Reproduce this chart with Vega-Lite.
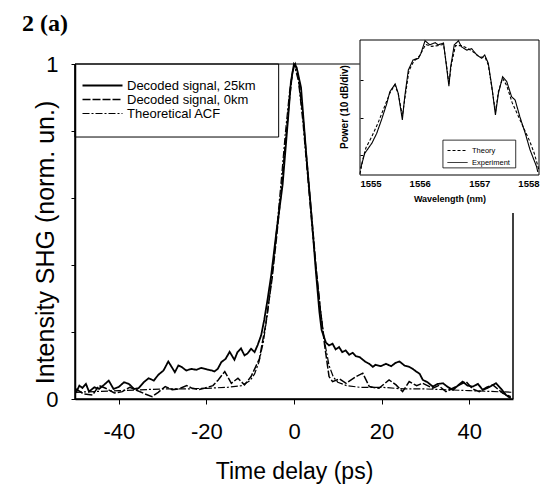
{
  "$schema": "https://vega.github.io/schema/vega-lite/v6.json",
  "width": 438,
  "height": 335,
  "autosize": "none",
  "padding": {"left": 75, "top": 64, "right": 37, "bottom": 86},
  "background": "white",
  "title": {"text": "2 (a)", "anchor": "start", "frame": "group", "font": "Liberation Serif", "fontSize": 24, "fontWeight": "bold", "color": "black", "dx": -53, "offset": -16, "baseline": "alphabetic"},
  "config": {
    "view": {"stroke": null},
    "font": "Liberation Sans",
    "axis": {"grid": false, "domainColor": "black", "tickColor": "black", "labelColor": "black", "titleColor": "black", "titleFontWeight": "normal", "labelFont": "Liberation Sans", "titleFont": "Liberation Sans"},
    "legend": {"labelColor": "black", "labelFont": "Liberation Sans"}
  },
  "datasets": {
    "main": [
      {"t": -49.8, "v": 0.018, "s": "Decoded signal, 25km"}, {"t": -49.0, "v": 0.04, "s": "Decoded signal, 25km"}, {"t": -48.3, "v": 0.033, "s": "Decoded signal, 25km"}, {"t": -47.5, "v": 0.045, "s": "Decoded signal, 25km"}, {"t": -46.8, "v": 0.022, "s": "Decoded signal, 25km"}, {"t": -45.6, "v": 0.035, "s": "Decoded signal, 25km"}, {"t": -44.5, "v": 0.03, "s": "Decoded signal, 25km"}, {"t": -43.4, "v": 0.042, "s": "Decoded signal, 25km"}, {"t": -42.3, "v": 0.055, "s": "Decoded signal, 25km"}, {"t": -41.2, "v": 0.03, "s": "Decoded signal, 25km"}, {"t": -40.0, "v": 0.036, "s": "Decoded signal, 25km"}, {"t": -38.8, "v": 0.05, "s": "Decoded signal, 25km"}, {"t": -37.7, "v": 0.045, "s": "Decoded signal, 25km"}, {"t": -36.5, "v": 0.03, "s": "Decoded signal, 25km"}, {"t": -35.5, "v": 0.032, "s": "Decoded signal, 25km"}, {"t": -34.3, "v": 0.05, "s": "Decoded signal, 25km"}, {"t": -33.2, "v": 0.062, "s": "Decoded signal, 25km"}, {"t": -32.0, "v": 0.055, "s": "Decoded signal, 25km"}, {"t": -31.0, "v": 0.072, "s": "Decoded signal, 25km"}, {"t": -29.8, "v": 0.085, "s": "Decoded signal, 25km"}, {"t": -28.7, "v": 0.112, "s": "Decoded signal, 25km"}, {"t": -27.9, "v": 0.095, "s": "Decoded signal, 25km"}, {"t": -27.2, "v": 0.08, "s": "Decoded signal, 25km"}, {"t": -26.4, "v": 0.1, "s": "Decoded signal, 25km"}, {"t": -25.7, "v": 0.096, "s": "Decoded signal, 25km"}, {"t": -24.6, "v": 0.085, "s": "Decoded signal, 25km"}, {"t": -23.4, "v": 0.09, "s": "Decoded signal, 25km"}, {"t": -22.3, "v": 0.087, "s": "Decoded signal, 25km"}, {"t": -21.2, "v": 0.093, "s": "Decoded signal, 25km"}, {"t": -19.8, "v": 0.088, "s": "Decoded signal, 25km"}, {"t": -18.7, "v": 0.085, "s": "Decoded signal, 25km"}, {"t": -18.2, "v": 0.082, "s": "Decoded signal, 25km"}, {"t": -17.4, "v": 0.09, "s": "Decoded signal, 25km"}, {"t": -16.6, "v": 0.11, "s": "Decoded signal, 25km"}, {"t": -15.6, "v": 0.12, "s": "Decoded signal, 25km"}, {"t": -14.7, "v": 0.141, "s": "Decoded signal, 25km"}, {"t": -13.6, "v": 0.117, "s": "Decoded signal, 25km"}, {"t": -12.9, "v": 0.14, "s": "Decoded signal, 25km"}, {"t": -12.1, "v": 0.151, "s": "Decoded signal, 25km"}, {"t": -11.3, "v": 0.13, "s": "Decoded signal, 25km"}, {"t": -10.6, "v": 0.136, "s": "Decoded signal, 25km"}, {"t": -9.8, "v": 0.15, "s": "Decoded signal, 25km"}, {"t": -9.0, "v": 0.14, "s": "Decoded signal, 25km"}, {"t": -8.3, "v": 0.161, "s": "Decoded signal, 25km"}, {"t": -7.5, "v": 0.19, "s": "Decoded signal, 25km"}, {"t": -6.8, "v": 0.236, "s": "Decoded signal, 25km"}, {"t": -6.0, "v": 0.3, "s": "Decoded signal, 25km"}, {"t": -5.2, "v": 0.37, "s": "Decoded signal, 25km"}, {"t": -4.0, "v": 0.5, "s": "Decoded signal, 25km"}, {"t": -2.6, "v": 0.64, "s": "Decoded signal, 25km"}, {"t": -1.4, "v": 0.83, "s": "Decoded signal, 25km"}, {"t": -0.7, "v": 0.947, "s": "Decoded signal, 25km"}, {"t": 0.0, "v": 1.0, "s": "Decoded signal, 25km"}, {"t": 0.6, "v": 0.99, "s": "Decoded signal, 25km"}, {"t": 1.6, "v": 0.93, "s": "Decoded signal, 25km"}, {"t": 2.8, "v": 0.73, "s": "Decoded signal, 25km"}, {"t": 4.1, "v": 0.53, "s": "Decoded signal, 25km"}, {"t": 5.0, "v": 0.38, "s": "Decoded signal, 25km"}, {"t": 5.8, "v": 0.26, "s": "Decoded signal, 25km"}, {"t": 6.3, "v": 0.206, "s": "Decoded signal, 25km"}, {"t": 7.3, "v": 0.168, "s": "Decoded signal, 25km"}, {"t": 8.0, "v": 0.16, "s": "Decoded signal, 25km"}, {"t": 8.8, "v": 0.165, "s": "Decoded signal, 25km"}, {"t": 9.5, "v": 0.148, "s": "Decoded signal, 25km"}, {"t": 10.3, "v": 0.155, "s": "Decoded signal, 25km"}, {"t": 11.0, "v": 0.14, "s": "Decoded signal, 25km"}, {"t": 11.8, "v": 0.145, "s": "Decoded signal, 25km"}, {"t": 12.6, "v": 0.132, "s": "Decoded signal, 25km"}, {"t": 13.4, "v": 0.138, "s": "Decoded signal, 25km"}, {"t": 14.1, "v": 0.128, "s": "Decoded signal, 25km"}, {"t": 15.0, "v": 0.125, "s": "Decoded signal, 25km"}, {"t": 16.3, "v": 0.111, "s": "Decoded signal, 25km"}, {"t": 17.2, "v": 0.105, "s": "Decoded signal, 25km"}, {"t": 18.0, "v": 0.096, "s": "Decoded signal, 25km"}, {"t": 18.6, "v": 0.102, "s": "Decoded signal, 25km"}, {"t": 19.8, "v": 0.098, "s": "Decoded signal, 25km"}, {"t": 21.0, "v": 0.105, "s": "Decoded signal, 25km"}, {"t": 22.2, "v": 0.098, "s": "Decoded signal, 25km"}, {"t": 23.2, "v": 0.108, "s": "Decoded signal, 25km"}, {"t": 24.1, "v": 0.112, "s": "Decoded signal, 25km"}, {"t": 25.2, "v": 0.1, "s": "Decoded signal, 25km"}, {"t": 26.3, "v": 0.096, "s": "Decoded signal, 25km"}, {"t": 27.1, "v": 0.09, "s": "Decoded signal, 25km"}, {"t": 27.9, "v": 0.082, "s": "Decoded signal, 25km"}, {"t": 28.7, "v": 0.075, "s": "Decoded signal, 25km"}, {"t": 29.4, "v": 0.057, "s": "Decoded signal, 25km"}, {"t": 30.5, "v": 0.05, "s": "Decoded signal, 25km"}, {"t": 31.7, "v": 0.037, "s": "Decoded signal, 25km"}, {"t": 32.8, "v": 0.045, "s": "Decoded signal, 25km"}, {"t": 34.0, "v": 0.047, "s": "Decoded signal, 25km"}, {"t": 35.2, "v": 0.035, "s": "Decoded signal, 25km"}, {"t": 36.3, "v": 0.027, "s": "Decoded signal, 25km"}, {"t": 37.4, "v": 0.04, "s": "Decoded signal, 25km"}, {"t": 38.5, "v": 0.052, "s": "Decoded signal, 25km"}, {"t": 39.6, "v": 0.04, "s": "Decoded signal, 25km"}, {"t": 40.8, "v": 0.037, "s": "Decoded signal, 25km"}, {"t": 42.0, "v": 0.045, "s": "Decoded signal, 25km"}, {"t": 43.1, "v": 0.027, "s": "Decoded signal, 25km"}, {"t": 44.5, "v": 0.035, "s": "Decoded signal, 25km"}, {"t": 46.1, "v": 0.047, "s": "Decoded signal, 25km"}, {"t": 47.3, "v": 0.03, "s": "Decoded signal, 25km"}, {"t": 48.4, "v": 0.012, "s": "Decoded signal, 25km"}, {"t": 49.5, "v": 0.002, "s": "Decoded signal, 25km"},
      {"t": -49.8, "v": 0.03, "s": "Decoded signal, 0km"}, {"t": -48.0, "v": 0.015, "s": "Decoded signal, 0km"}, {"t": -46.0, "v": 0.012, "s": "Decoded signal, 0km"}, {"t": -44.5, "v": 0.04, "s": "Decoded signal, 0km"}, {"t": -43.0, "v": 0.032, "s": "Decoded signal, 0km"}, {"t": -41.0, "v": 0.018, "s": "Decoded signal, 0km"}, {"t": -39.2, "v": 0.022, "s": "Decoded signal, 0km"}, {"t": -37.5, "v": 0.035, "s": "Decoded signal, 0km"}, {"t": -36.1, "v": 0.027, "s": "Decoded signal, 0km"}, {"t": -34.0, "v": 0.015, "s": "Decoded signal, 0km"}, {"t": -32.4, "v": 0.007, "s": "Decoded signal, 0km"}, {"t": -31.0, "v": 0.02, "s": "Decoded signal, 0km"}, {"t": -29.4, "v": 0.037, "s": "Decoded signal, 0km"}, {"t": -27.8, "v": 0.028, "s": "Decoded signal, 0km"}, {"t": -26.3, "v": 0.03, "s": "Decoded signal, 0km"}, {"t": -24.5, "v": 0.04, "s": "Decoded signal, 0km"}, {"t": -23.4, "v": 0.033, "s": "Decoded signal, 0km"}, {"t": -21.8, "v": 0.028, "s": "Decoded signal, 0km"}, {"t": -20.3, "v": 0.033, "s": "Decoded signal, 0km"}, {"t": -18.5, "v": 0.04, "s": "Decoded signal, 0km"}, {"t": -17.3, "v": 0.057, "s": "Decoded signal, 0km"}, {"t": -15.8, "v": 0.082, "s": "Decoded signal, 0km"}, {"t": -14.3, "v": 0.047, "s": "Decoded signal, 0km"}, {"t": -12.8, "v": 0.062, "s": "Decoded signal, 0km"}, {"t": -11.3, "v": 0.042, "s": "Decoded signal, 0km"}, {"t": -9.8, "v": 0.067, "s": "Decoded signal, 0km"}, {"t": -7.9, "v": 0.12, "s": "Decoded signal, 0km"}, {"t": -6.5, "v": 0.22, "s": "Decoded signal, 0km"}, {"t": -5.0, "v": 0.36, "s": "Decoded signal, 0km"}, {"t": -4.0, "v": 0.48, "s": "Decoded signal, 0km"}, {"t": -3.0, "v": 0.61, "s": "Decoded signal, 0km"}, {"t": -2.0, "v": 0.76, "s": "Decoded signal, 0km"}, {"t": -1.0, "v": 0.9, "s": "Decoded signal, 0km"}, {"t": -0.3, "v": 0.98, "s": "Decoded signal, 0km"}, {"t": 0.3, "v": 1.0, "s": "Decoded signal, 0km"}, {"t": 1.0, "v": 0.96, "s": "Decoded signal, 0km"}, {"t": 2.0, "v": 0.85, "s": "Decoded signal, 0km"}, {"t": 3.0, "v": 0.7, "s": "Decoded signal, 0km"}, {"t": 4.0, "v": 0.55, "s": "Decoded signal, 0km"}, {"t": 5.0, "v": 0.4, "s": "Decoded signal, 0km"}, {"t": 6.0, "v": 0.27, "s": "Decoded signal, 0km"}, {"t": 7.0, "v": 0.16, "s": "Decoded signal, 0km"}, {"t": 8.0, "v": 0.067, "s": "Decoded signal, 0km"}, {"t": 8.8, "v": 0.052, "s": "Decoded signal, 0km"}, {"t": 10.4, "v": 0.06, "s": "Decoded signal, 0km"}, {"t": 11.9, "v": 0.047, "s": "Decoded signal, 0km"}, {"t": 14.2, "v": 0.067, "s": "Decoded signal, 0km"}, {"t": 15.7, "v": 0.077, "s": "Decoded signal, 0km"}, {"t": 17.2, "v": 0.037, "s": "Decoded signal, 0km"}, {"t": 19.4, "v": 0.032, "s": "Decoded signal, 0km"}, {"t": 21.7, "v": 0.057, "s": "Decoded signal, 0km"}, {"t": 23.3, "v": 0.042, "s": "Decoded signal, 0km"}, {"t": 24.8, "v": 0.022, "s": "Decoded signal, 0km"}, {"t": 26.3, "v": 0.052, "s": "Decoded signal, 0km"}, {"t": 28.0, "v": 0.04, "s": "Decoded signal, 0km"}, {"t": 29.4, "v": 0.047, "s": "Decoded signal, 0km"}, {"t": 31.7, "v": 0.032, "s": "Decoded signal, 0km"}, {"t": 33.0, "v": 0.04, "s": "Decoded signal, 0km"}, {"t": 34.7, "v": 0.022, "s": "Decoded signal, 0km"}, {"t": 37.0, "v": 0.037, "s": "Decoded signal, 0km"}, {"t": 39.3, "v": 0.052, "s": "Decoded signal, 0km"}, {"t": 40.8, "v": 0.03, "s": "Decoded signal, 0km"}, {"t": 42.3, "v": 0.022, "s": "Decoded signal, 0km"}, {"t": 44.0, "v": 0.035, "s": "Decoded signal, 0km"}, {"t": 45.4, "v": 0.042, "s": "Decoded signal, 0km"}, {"t": 47.7, "v": 0.017, "s": "Decoded signal, 0km"}, {"t": 49.5, "v": 0.007, "s": "Decoded signal, 0km"},
      {"t": -50, "v": 0.02, "s": "Theoretical ACF"}, {"t": -40, "v": 0.025, "s": "Theoretical ACF"}, {"t": -30, "v": 0.03, "s": "Theoretical ACF"}, {"t": -25, "v": 0.03, "s": "Theoretical ACF"}, {"t": -20, "v": 0.032, "s": "Theoretical ACF"}, {"t": -15, "v": 0.035, "s": "Theoretical ACF"}, {"t": -12, "v": 0.04, "s": "Theoretical ACF"}, {"t": -10, "v": 0.055, "s": "Theoretical ACF"}, {"t": -9, "v": 0.075, "s": "Theoretical ACF"}, {"t": -8, "v": 0.11, "s": "Theoretical ACF"}, {"t": -7, "v": 0.17, "s": "Theoretical ACF"}, {"t": -6, "v": 0.26, "s": "Theoretical ACF"}, {"t": -5, "v": 0.37, "s": "Theoretical ACF"}, {"t": -4, "v": 0.5, "s": "Theoretical ACF"}, {"t": -3, "v": 0.64, "s": "Theoretical ACF"}, {"t": -2, "v": 0.79, "s": "Theoretical ACF"}, {"t": -1, "v": 0.92, "s": "Theoretical ACF"}, {"t": 0, "v": 1.0, "s": "Theoretical ACF"}, {"t": 1, "v": 0.95, "s": "Theoretical ACF"}, {"t": 2, "v": 0.83, "s": "Theoretical ACF"}, {"t": 3, "v": 0.68, "s": "Theoretical ACF"}, {"t": 4, "v": 0.53, "s": "Theoretical ACF"}, {"t": 5, "v": 0.39, "s": "Theoretical ACF"}, {"t": 6, "v": 0.27, "s": "Theoretical ACF"}, {"t": 7, "v": 0.17, "s": "Theoretical ACF"}, {"t": 8, "v": 0.1, "s": "Theoretical ACF"}, {"t": 9, "v": 0.065, "s": "Theoretical ACF"}, {"t": 10, "v": 0.05, "s": "Theoretical ACF"}, {"t": 12, "v": 0.04, "s": "Theoretical ACF"}, {"t": 15, "v": 0.035, "s": "Theoretical ACF"}, {"t": 20, "v": 0.035, "s": "Theoretical ACF"}, {"t": 25, "v": 0.03, "s": "Theoretical ACF"}, {"t": 30, "v": 0.03, "s": "Theoretical ACF"}, {"t": 40, "v": 0.025, "s": "Theoretical ACF"}, {"t": 50, "v": 0.02, "s": "Theoretical ACF"}
    ],
    "inset": [
      {"w": 1555.01, "p": -33.5, "s": "Experiment"}, {"w": 1555.08, "p": -29.5, "s": "Experiment"}, {"w": 1555.2, "p": -26.8, "s": "Experiment"}, {"w": 1555.28, "p": -24.2, "s": "Experiment"}, {"w": 1555.36, "p": -20.6, "s": "Experiment"}, {"w": 1555.45, "p": -16.2, "s": "Experiment"}, {"w": 1555.5, "p": -13.1, "s": "Experiment"}, {"w": 1555.59, "p": -11.0, "s": "Experiment"}, {"w": 1555.64, "p": -13.5, "s": "Experiment"}, {"w": 1555.71, "p": -20.6, "s": "Experiment"}, {"w": 1555.75, "p": -14.4, "s": "Experiment"}, {"w": 1555.81, "p": -7.3, "s": "Experiment"}, {"w": 1555.89, "p": -4.6, "s": "Experiment"}, {"w": 1555.98, "p": -4.2, "s": "Experiment"}, {"w": 1556.02, "p": -2.9, "s": "Experiment"}, {"w": 1556.09, "p": 0.5, "s": "Experiment"}, {"w": 1556.17, "p": -0.6, "s": "Experiment"}, {"w": 1556.26, "p": 0.0, "s": "Experiment"}, {"w": 1556.31, "p": -0.6, "s": "Experiment"}, {"w": 1556.4, "p": -0.1, "s": "Experiment"}, {"w": 1556.45, "p": -6.4, "s": "Experiment"}, {"w": 1556.49, "p": -11.6, "s": "Experiment"}, {"w": 1556.52, "p": -6.4, "s": "Experiment"}, {"w": 1556.58, "p": -0.6, "s": "Experiment"}, {"w": 1556.65, "p": 0.5, "s": "Experiment"}, {"w": 1556.7, "p": -1.1, "s": "Experiment"}, {"w": 1556.79, "p": -2.0, "s": "Experiment"}, {"w": 1556.87, "p": -1.6, "s": "Experiment"}, {"w": 1556.96, "p": -3.3, "s": "Experiment"}, {"w": 1557.04, "p": -4.2, "s": "Experiment"}, {"w": 1557.09, "p": -3.3, "s": "Experiment"}, {"w": 1557.15, "p": -5.5, "s": "Experiment"}, {"w": 1557.21, "p": -11.8, "s": "Experiment"}, {"w": 1557.27, "p": -19.3, "s": "Experiment"}, {"w": 1557.32, "p": -13.5, "s": "Experiment"}, {"w": 1557.39, "p": -9.1, "s": "Experiment"}, {"w": 1557.46, "p": -10.4, "s": "Experiment"}, {"w": 1557.54, "p": -14.4, "s": "Experiment"}, {"w": 1557.6, "p": -15.3, "s": "Experiment"}, {"w": 1557.68, "p": -19.8, "s": "Experiment"}, {"w": 1557.77, "p": -24.2, "s": "Experiment"}, {"w": 1557.85, "p": -28.6, "s": "Experiment"}, {"w": 1557.96, "p": -33.1, "s": "Experiment"}, {"w": 1557.98, "p": -34.5, "s": "Experiment"},
      {"w": 1555.0, "p": -35.0, "s": "Theory"}, {"w": 1555.05, "p": -31.0, "s": "Theory"}, {"w": 1555.1, "p": -28.0, "s": "Theory"}, {"w": 1555.2, "p": -25.0, "s": "Theory"}, {"w": 1555.3, "p": -21.5, "s": "Theory"}, {"w": 1555.4, "p": -17.5, "s": "Theory"}, {"w": 1555.5, "p": -13.5, "s": "Theory"}, {"w": 1555.58, "p": -11.3, "s": "Theory"}, {"w": 1555.64, "p": -13.5, "s": "Theory"}, {"w": 1555.71, "p": -19.5, "s": "Theory"}, {"w": 1555.76, "p": -14.0, "s": "Theory"}, {"w": 1555.82, "p": -7.5, "s": "Theory"}, {"w": 1555.9, "p": -5.0, "s": "Theory"}, {"w": 1556.0, "p": -3.5, "s": "Theory"}, {"w": 1556.1, "p": -0.5, "s": "Theory"}, {"w": 1556.2, "p": -1.0, "s": "Theory"}, {"w": 1556.3, "p": -0.8, "s": "Theory"}, {"w": 1556.4, "p": -0.5, "s": "Theory"}, {"w": 1556.45, "p": -6.0, "s": "Theory"}, {"w": 1556.49, "p": -11.0, "s": "Theory"}, {"w": 1556.53, "p": -6.0, "s": "Theory"}, {"w": 1556.6, "p": -0.8, "s": "Theory"}, {"w": 1556.7, "p": -0.8, "s": "Theory"}, {"w": 1556.8, "p": -1.5, "s": "Theory"}, {"w": 1556.9, "p": -2.5, "s": "Theory"}, {"w": 1557.0, "p": -3.8, "s": "Theory"}, {"w": 1557.1, "p": -4.0, "s": "Theory"}, {"w": 1557.15, "p": -6.0, "s": "Theory"}, {"w": 1557.21, "p": -12.0, "s": "Theory"}, {"w": 1557.27, "p": -18.5, "s": "Theory"}, {"w": 1557.32, "p": -13.0, "s": "Theory"}, {"w": 1557.39, "p": -9.5, "s": "Theory"}, {"w": 1557.46, "p": -11.5, "s": "Theory"}, {"w": 1557.55, "p": -16.0, "s": "Theory"}, {"w": 1557.65, "p": -19.5, "s": "Theory"}, {"w": 1557.75, "p": -23.0, "s": "Theory"}, {"w": 1557.85, "p": -26.5, "s": "Theory"}, {"w": 1557.92, "p": -29.5, "s": "Theory"}, {"w": 1558.0, "p": -34.0, "s": "Theory"}
    ]
  },
  "layer": [
    {
      "layer": [
        {
          "data": {"name": "main"},
          "mark": {"type": "line", "color": "black", "interpolate": "linear"},
          "encoding": {
            "x": {"field": "t", "type": "quantitative", "scale": {"domain": [-50, 50], "nice": false, "zero": false},
              "axis": {"title": "Time delay (ps)", "values": [-40, -20, 0, 20, 40], "labelExpr": "replace(datum.label, '\u2212', '-')", "domain": true, "tickSize": 5, "labelFontSize": 22, "labelPadding": 34, "labelBaseline": "alphabetic", "titleFontSize": 23, "titleBaseline": "alphabetic", "titleY": 79, "domainWidth": 1.5}},
            "y": {"field": "v", "type": "quantitative", "scale": {"domain": [0, 1], "nice": false},
              "axis": {"title": "Intensity SHG (norm. un.)", "values": [0, 0.2, 0.4, 0.6, 0.8, 1], "labelExpr": "datum.value == 0 ? '0' : (datum.value == 1 ? '1' : '')", "domain": true, "tickSize": 4, "labelFontSize": 22, "labelPadding": 13, "titleFontSize": 25, "titleBaseline": "alphabetic", "titleX": -22, "titleY": 178, "titleAngle": 270, "titleAlign": "center", "domainWidth": 1.5}},
            "detail": {"field": "s"},
            "strokeDash": {"field": "s", "type": "nominal", "scale": {"domain": ["Decoded signal, 25km", "Decoded signal, 0km", "Theoretical ACF"], "range": [[1, 0], [8, 2], [7, 2, 2, 2]]},
              "legend": {"title": null, "orient": "none", "legendX": 0, "legendY": 15, "symbolType": "M-8,0H8", "symbolSize": 25, "symbolStrokeColor": "black", "symbolOffset": 21, "labelOffset": 18, "labelFontSize": 13, "labelColor": "black", "rowPadding": -2, "padding": 0, "labelLimit": 300}},
            "strokeWidth": {"field": "s", "type": "nominal", "scale": {"domain": ["Decoded signal, 25km", "Decoded signal, 0km", "Theoretical ACF"], "range": [1.8, 1.2, 1.2]}}
          }
        },
        {
          "data": {"values": [{}]},
          "mark": {"type": "rule", "color": "black", "strokeWidth": 1.2},
          "encoding": {"x": {"datum": -50}, "x2": {"datum": 15}, "y": {"datum": 1}}
        },
        {
          "data": {"values": [{}]},
          "mark": {"type": "rule", "color": "black", "strokeWidth": 1.5},
          "encoding": {"x": {"datum": -50}, "x2": {"datum": 50}, "y": {"datum": 0}}
        },
        {
          "data": {"values": [{}]},
          "mark": {"type": "rule", "color": "black", "strokeWidth": 1.5},
          "encoding": {"x": {"datum": -50}, "y": {"datum": 0}, "y2": {"datum": 1}}
        },
        {
          "data": {"values": [{}]},
          "mark": {"type": "rule", "color": "black", "strokeWidth": 1.5},
          "encoding": {"x": {"datum": 50}, "y": {"datum": 0}, "y2": {"datum": 0.555}}
        },
        {
          "data": {"values": [{}]},
          "mark": {"type": "rect", "fill": "white", "fillOpacity": 0, "stroke": "black", "strokeWidth": 1},
          "encoding": {"x": {"datum": -50}, "x2": {"datum": -3.5}, "y": {"datum": 1}, "y2": {"datum": 0.782}}
        }
      ]
    },
    {
      "layer": [
        {
          "data": {"values": [{}]},
          "mark": {"type": "rect", "fill": "white", "stroke": "black", "strokeWidth": 1},
          "encoding": {
            "x": {"datum": 1555, "scale": {"domain": [1555, 1558], "range": [285, 464], "nice": false, "zero": false},
              "axis": {"orient": "bottom", "offset": -224, "title": "Wavelength (nm)", "values": [1555, 1556, 1557, 1558], "format": "d", "ticks": false, "domain": false, "labelFontSize": 9.5, "labelFontWeight": "bold", "labelPadding": 11.5, "labelBaseline": "alphabetic", "titleFontSize": 9, "titleFontWeight": "bold", "titleBaseline": "alphabetic", "titleY": 26, "zindex": 1}},
            "x2": {"datum": 1558},
            "y": {"datum": 0.7, "scale": {"domain": [-35.3, 0.7], "range": [111, -24], "nice": false, "zero": false},
              "axis": {"orient": "left", "offset": -285, "title": "Power (10 dB/div)", "values": [-30, -20, -10], "labels": false, "tickSize": -3, "domain": false, "titleFontSize": 10, "titleFontWeight": "bold", "titleBaseline": "alphabetic", "titleX": -13, "titleY": 42.5, "titleAngle": 270, "titleAlign": "center", "zindex": 1}},
            "y2": {"datum": -35.3}
          }
        },
        {
          "data": {"name": "inset"},
          "mark": {"type": "line", "color": "black", "strokeWidth": 1.1},
          "encoding": {
            "x": {"field": "w", "type": "quantitative"},
            "y": {"field": "p", "type": "quantitative"},
            "detail": {"field": "s"},
            "strokeDash": {"field": "s", "type": "nominal", "scale": {"domain": ["Theory", "Experiment"], "range": [[3, 2], [1, 0]]},
              "legend": {"title": null, "orient": "none", "legendX": 367, "legendY": 81, "symbolType": "M-2,0H2", "symbolSize": 100, "symbolStrokeColor": "black", "symbolStrokeWidth": 1, "symbolOffset": 10, "labelOffset": 9, "labelFontSize": 7.5, "labelColor": "black", "rowPadding": 3, "padding": 0}}
          }
        },
        {
          "data": {"values": [{}]},
          "mark": {"type": "rect", "fillOpacity": 0, "stroke": "black", "strokeWidth": 0.8},
          "encoding": {"x": {"datum": 1556.39}, "x2": {"datum": 1557.61}, "y": {"datum": -26.0}, "y2": {"datum": -33.4}}
        }
      ]
    }
  ],
  "resolve": {"scale": {"x": "independent", "y": "independent", "strokeDash": "independent", "strokeWidth": "independent"}, "axis": {"x": "independent", "y": "independent"}, "legend": {"strokeDash": "independent", "strokeWidth": "independent"}}
}
